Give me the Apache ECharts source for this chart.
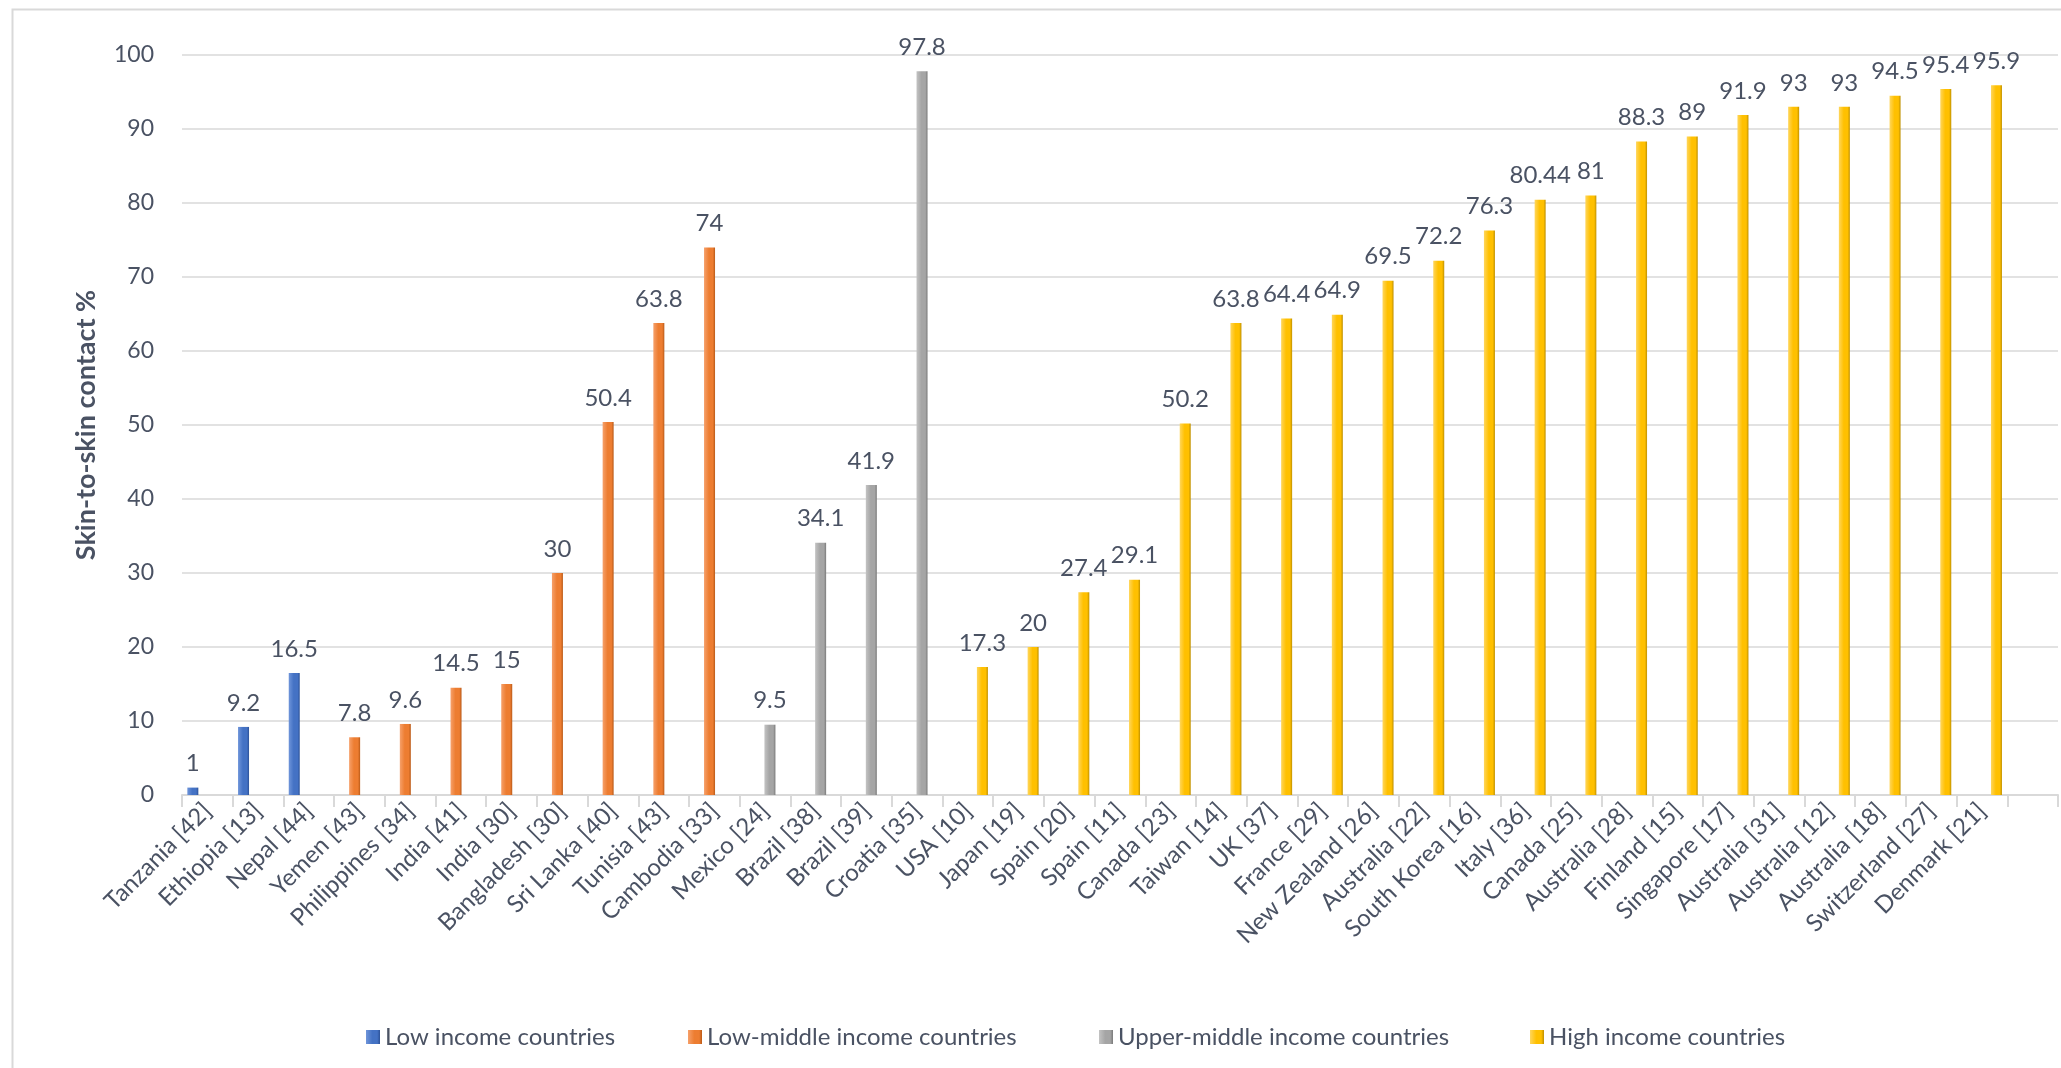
<!DOCTYPE html>
<html>
<head>
<meta charset="utf-8">
<script src="https://cdn.jsdelivr.net/npm/echarts@6/dist/echarts.min.js"></script>
<style>
html,body{margin:0;padding:0;background:#fff;}
#chart{width:2061px;height:1068px;}
</style>
</head>
<body>
<div id="chart"></div>
<script>
// ---- data ----
const lowIncomeCats = ['Tanzania [42]', 'Ethiopia [13]', 'Nepal [44]'];
const lowIncomeVals = [1, 9.2, 16.5];
const lowMiddleCats = ['Yemen [43]', 'Philippines [34]', 'India [41]', 'India [30]', 'Bangladesh [30]', 'Sri Lanka [40]', 'Tunisia [43]', 'Cambodia [33]'];
const lowMiddleVals = [7.8, 9.6, 14.5, 15, 30, 50.4, 63.8, 74];
const upperMiddleCats = ['Mexico [24]', 'Brazil [38]', 'Brazil [39]', 'Croatia [35]'];
const upperMiddleVals = [9.5, 34.1, 41.9, 97.8];
const highCats = ['USA [10]', 'Japan [19]', 'Spain [20]', 'Spain [11]', 'Canada [23]', 'Taiwan [14]', 'UK [37]', 'France [29]', 'New Zealand [26]', 'Australia [22]', 'South Korea [16]', 'Italy [36]', 'Canada [25]', 'Australia [28]', 'Finland [15]', 'Singapore [17]', 'Australia [31]', 'Australia [12]', 'Australia [18]', 'Switzerland [27]', 'Denmark [21]'];
const highVals = [17.3, 20, 27.4, 29.1, 50.2, 63.8, 64.4, 64.9, 69.5, 72.2, 76.3, 80.44, 81, 88.3, 89, 91.9, 93, 93, 94.5, 95.4, 95.9];
const groupNames = ['Low income countries', 'Low-middle income countries', 'Upper-middle income countries', 'High income countries'];
const yTicks = [0, 10, 20, 30, 40, 50, 60, 70, 80, 90, 100];

// ---- build ----
const groups = [
  [lowIncomeCats, lowIncomeVals],
  [lowMiddleCats, lowMiddleVals],
  [upperMiddleCats, upperMiddleVals],
  [highCats, highVals]
];
const categories = [];
groups.forEach(g => g[0].forEach(c => categories.push(c)));
categories.push(''); // empty trailing slot as in the original axis

const seriesData = groups.map(() => categories.map(() => null));
let idx = 0;
groups.forEach((g, gi) => {
  g[1].forEach(v => { seriesData[gi][idx] = v; idx++; });
});

const palettes = [
  ['#6f95da', '#4472C4', '#2d5298'],
  ['#f6a06a', '#ED7D31', '#b95a18'],
  ['#c3c3c3', '#A5A5A5', '#7a7a7a'],
  ['#ffd65c', '#FFC000', '#bf9000']
];
const textColor = '#4a5263';
const font = 'Lato';

function grad(p) {
  return new echarts.graphic.LinearGradient(0, 0, 1, 0, [
    {offset: 0, color: p[0]},
    {offset: 0.45, color: p[1]},
    {offset: 0.8, color: p[1]},
    {offset: 1, color: p[2]}
  ]);
}

const legendLefts = [361, 683, 1094, 1525];

const chart = echarts.init(document.getElementById('chart'));
chart.setOption({
  backgroundColor: '#ffffff',
  animation: false,
  textStyle: {fontFamily: font},
  graphic: [{
    type: 'rect', left: 10, top: 7, z: -10,
    shape: {width: 2100, height: 1100},
    style: {fill: 'none', stroke: '#d9d9d9', lineWidth: 2}
  }],
  legend: groupNames.map((n, i) => ({
    data: [n],
    left: legendLefts[i],
    top: 1020,
    itemWidth: 14, itemHeight: 14, itemGap: 6,
    icon: 'rect',
    textStyle: {fontFamily: font, fontSize: 24, color: textColor}
  })),
  grid: {left: 182, right: 3, top: 55, bottom: 273},
  xAxis: {
    type: 'category',
    data: categories,
    boundaryGap: true,
    axisLine: {lineStyle: {color: '#d9d9d9', width: 2}},
    axisTick: {show: true, length: 12, lineStyle: {color: '#d9d9d9', width: 2}},
    axisLabel: {interval: 0, rotate: 45, fontSize: 24, color: textColor, fontFamily: font, margin: 12}
  },
  yAxis: {
    type: 'value',
    min: yTicks[0], max: yTicks[yTicks.length - 1], interval: yTicks[1] - yTicks[0],
    name: 'Skin-to-skin contact %',
    nameLocation: 'middle',
    nameGap: 82,
    nameTextStyle: {fontFamily: font, fontSize: 27, fontWeight: 'bold', color: textColor},
    axisLine: {show: false},
    axisTick: {show: false},
    axisLabel: {fontSize: 23, color: textColor, fontFamily: font, margin: 28},
    splitLine: {lineStyle: {color: '#e2e2e2', width: 2}}
  },
  series: groupNames.map((n, i) => ({
    name: n,
    type: 'bar',
    data: seriesData[i],
    barWidth: 11,
    barGap: '-12%',
    itemStyle: {color: grad(palettes[i])},
    label: {
      show: true, position: 'top', distance: 12,
      fontSize: 24, color: textColor, fontFamily: font
    }
  }))
});
</script>
</body>
</html>
